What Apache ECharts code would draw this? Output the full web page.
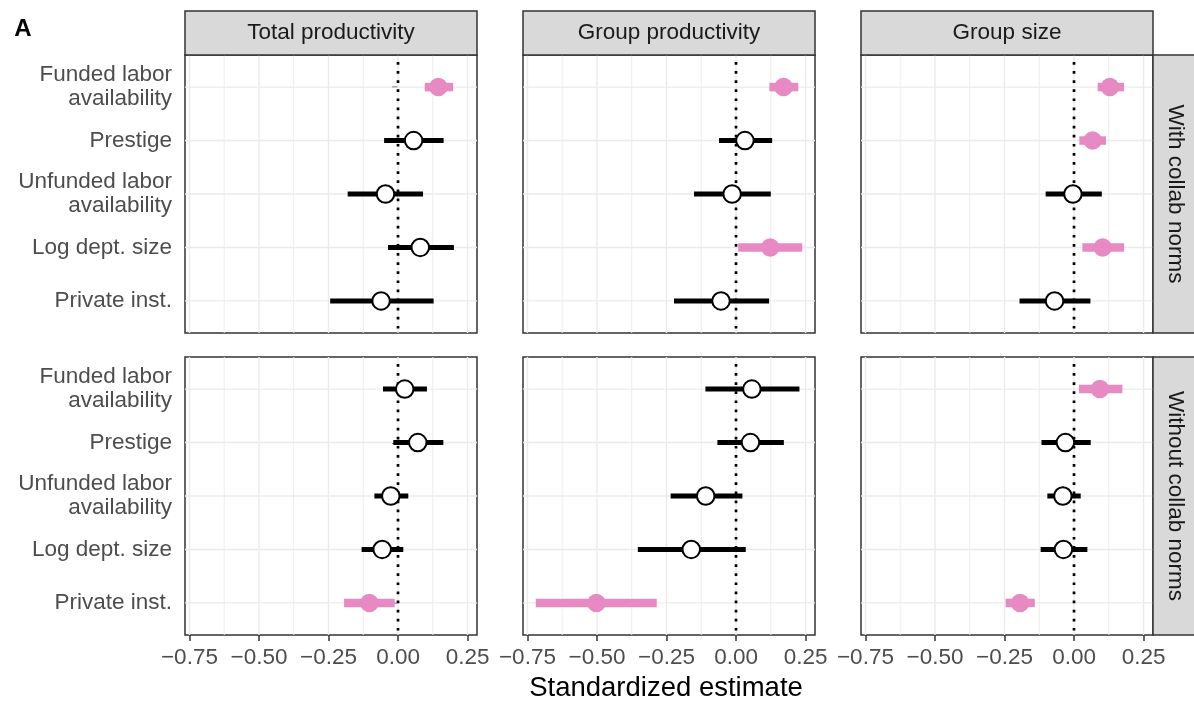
<!DOCTYPE html>
<html>
<head>
<meta charset="utf-8">
<title>Standardized estimates</title>
<script src="https://cdn.jsdelivr.net/npm/echarts@6/dist/echarts.min.js"></script>
<style>
  html, body { margin: 0; padding: 0; background: #fff; }
  #main { width: 1194px; height: 702px; }
</style>
</head>
<body>
<div id="main"></div>
<script>
const categories = ['Funded labor\navailability', 'Prestige', 'Unfunded labor\navailability', 'Log dept. size', 'Private inst.'];
const outcomes = ['Total productivity', 'Group productivity', 'Group size'];
const norms = ['With collab norms', 'Without collab norms'];
const xTicks = [-0.75, -0.5, -0.25, 0, 0.25];
const xMinor = [-0.625, -0.375, -0.125, 0.125];
const yTicks = [1, 2, 3, 4, 5];

// [lower, estimate, upper] for each category, top to bottom
const totalWith = [[0.096, 0.145, 0.198], [-0.050, 0.056, 0.164], [-0.181, -0.045, 0.090], [-0.036, 0.080, 0.201], [-0.244, -0.061, 0.128]];
const groupProdWith = [[0.120, 0.171, 0.224], [-0.061, 0.032, 0.130], [-0.151, -0.014, 0.125], [0.008, 0.123, 0.238], [-0.223, -0.054, 0.119]];
const groupSizeWith = [[0.085, 0.129, 0.180], [0.019, 0.067, 0.115], [-0.102, -0.004, 0.100], [0.030, 0.103, 0.180], [-0.196, -0.070, 0.059]];

const totalWithout = [[-0.054, 0.024, 0.104], [-0.017, 0.071, 0.163], [-0.085, -0.026, 0.037], [-0.131, -0.057, 0.019], [-0.194, -0.103, -0.012]];
const groupProdWithout = [[-0.110, 0.057, 0.228], [-0.067, 0.052, 0.172], [-0.235, -0.109, 0.023], [-0.353, -0.161, 0.035], [-0.720, -0.502, -0.285]];
const groupSizeWithout = [[0.018, 0.093, 0.174], [-0.117, -0.031, 0.060], [-0.096, -0.040, 0.024], [-0.120, -0.038, 0.048], [-0.246, -0.194, -0.141]];

const panels = [
  [totalWith, groupProdWith, groupSizeWith],
  [totalWithout, groupProdWithout, groupSizeWithout]
];

const X_MIN = -0.766, X_MAX = 0.284, Y_MIN = 0.4, Y_MAX = 5.6;
const PINK = '#e78ac3';
const FONT = 'Liberation Sans, Arial, Helvetica, sans-serif';

const fmt = (v) => (v < 0 ? '\u2212' : '') + Math.abs(v).toFixed(2);

const myChart = echarts.init(document.getElementById('main'));

let grids = [], xAxes = [], yAxes = [], series = [], graphics = [];

for (let r = 0; r < 2; r++) {
  for (let c = 0; c < 3; c++) {
    const i = r * 3 + c;
    const left = 185 + c * 338, top = 55 + r * 302;
    grids.push({
      left: left, top: top, width: 292, height: 278,
      show: true, backgroundColor: '#fff', borderColor: '#333', borderWidth: 1.5
    });
    xAxes.push({
      type: 'value', gridIndex: i, min: X_MIN, max: X_MAX,
      axisLine: {show: false},
      splitLine: {show: false},
      axisTick: {show: r === 1, customValues: xTicks, length: 6, lineStyle: {color: '#333', width: 1.5}},
      axisLabel: {
        show: r === 1, customValues: xTicks, formatter: fmt, margin: 11,
        fontSize: 22.5, color: '#4d4d4d', fontFamily: FONT
      }
    });
    yAxes.push({
      type: 'value', gridIndex: i, min: Y_MIN, max: Y_MAX, inverse: true,
      axisLine: {show: false},
      splitLine: {show: false},
      axisTick: {show: c === 0, customValues: yTicks, length: 6, lineStyle: {color: '#333', width: 1.5}},
      axisLabel: {
        show: c === 0, customValues: yTicks, formatter: (v) => categories[Math.round(v) - 1],
        margin: 13, fontSize: 22.5, lineHeight: 24, color: '#4d4d4d', fontFamily: FONT
      }
    });

    // background grid lines (major + minor like ggplot)
    const gridData = xTicks.map(v => [v, 0, 1])
      .concat(xMinor.map(v => [v, 0, 0]))
      .concat(yTicks.map(v => [v, 1, 1]));
    series.push({
      type: 'custom', xAxisIndex: i, yAxisIndex: i, z: 1, silent: true,
      data: gridData,
      renderItem: function (params, api) {
        const v = api.value(0), horiz = api.value(1), major = api.value(2);
        const p1 = horiz ? api.coord([X_MIN, v]) : api.coord([v, Y_MIN]);
        const p2 = horiz ? api.coord([X_MAX, v]) : api.coord([v, Y_MAX]);
        return {
          type: 'line',
          shape: {x1: p1[0], y1: p1[1], x2: p2[0], y2: p2[1]},
          style: {stroke: '#ebebeb', lineWidth: major ? 1.4 : 0.9}
        };
      }
    });

    // dotted zero line
    series.push({
      type: 'custom', xAxisIndex: i, yAxisIndex: i, z: 2, silent: true,
      data: [[0]],
      renderItem: function (params, api) {
        const p1 = api.coord([api.value(0), Y_MIN]);
        const p2 = api.coord([api.value(0), Y_MAX]);
        return {
          type: 'line',
          shape: {x1: p1[0], y1: p1[1] + 7, x2: p2[0], y2: p2[1]},
          style: {stroke: '#000', lineWidth: 2.7, lineDash: [2.7, 6.4], lineCap: 'butt'}
        };
      }
    });

    const rows = panels[r][c];
    // error bars
    series.push({
      type: 'custom', xAxisIndex: i, yAxisIndex: i, z: 3,
      encode: {x: [0, 1], y: 2},
      data: rows.map((d, k) => [d[0], d[2], k + 1, (d[0] > 0 || d[2] < 0) ? 1 : 0]),
      renderItem: function (params, api) {
        const y = api.value(2);
        const a = api.coord([api.value(0), y]);
        const b = api.coord([api.value(1), y]);
        const sig = api.value(3);
        return {
          type: 'line',
          shape: {x1: a[0], y1: a[1], x2: b[0], y2: b[1]},
          style: {stroke: sig ? PINK : '#000', lineWidth: sig ? 8.5 : 5, lineCap: 'butt'}
        };
      }
    });
    // point estimates
    series.push({
      type: 'scatter', xAxisIndex: i, yAxisIndex: i, z: 4,
      symbol: 'circle',
      data: rows.map((d, k) => {
        const sig = d[0] > 0 || d[2] < 0;
        return {
          value: [d[1], k + 1],
          symbolSize: sig ? 18.5 : 17.5,
          itemStyle: sig
            ? {color: PINK, borderWidth: 0, opacity: 1}
            : {color: '#fff', borderColor: '#000', borderWidth: 2, opacity: 1}
        };
      })
    });
  }
}

// top strips
outcomes.forEach((name, c) => {
  const left = 185 + c * 338;
  graphics.push({
    type: 'rect', shape: {x: left, y: 11, width: 292, height: 44},
    style: {fill: '#d9d9d9', stroke: '#333', lineWidth: 1.5}, z: 10
  });
  graphics.push({
    type: 'text', x: left + 146, y: 33, z: 11,
    style: {text: name, align: 'center', verticalAlign: 'middle', fontSize: 22.5, fill: '#1a1a1a', fontFamily: FONT}
  });
});

// right strips
norms.forEach((name, r) => {
  const top = 55 + r * 302;
  graphics.push({
    type: 'rect', shape: {x: 1153, y: top, width: 50, height: 278},
    style: {fill: '#d9d9d9', stroke: '#333', lineWidth: 1.5}, z: 10
  });
  graphics.push({
    type: 'text', x: 1175, y: top + 139, rotation: -Math.PI / 2, z: 11,
    style: {text: name, align: 'center', verticalAlign: 'middle', fontSize: 22.5, fill: '#1a1a1a', fontFamily: FONT}
  });
});

// axis title and panel tag
graphics.push({
  type: 'text', x: 666, y: 688,
  style: {text: 'Standardized estimate', align: 'center', verticalAlign: 'middle', fontSize: 27.5, fill: '#000', fontFamily: FONT}
});
graphics.push({
  type: 'text', x: 23, y: 29,
  style: {text: 'A', align: 'center', verticalAlign: 'middle', fontSize: 24, fontWeight: 'bold', fill: '#000', fontFamily: FONT}
});

const option = {
  animation: false,
  backgroundColor: '#fff',
  grid: grids,
  xAxis: xAxes,
  yAxis: yAxes,
  series: series,
  graphic: graphics
};

myChart.setOption(option);
</script>
</body>
</html>
